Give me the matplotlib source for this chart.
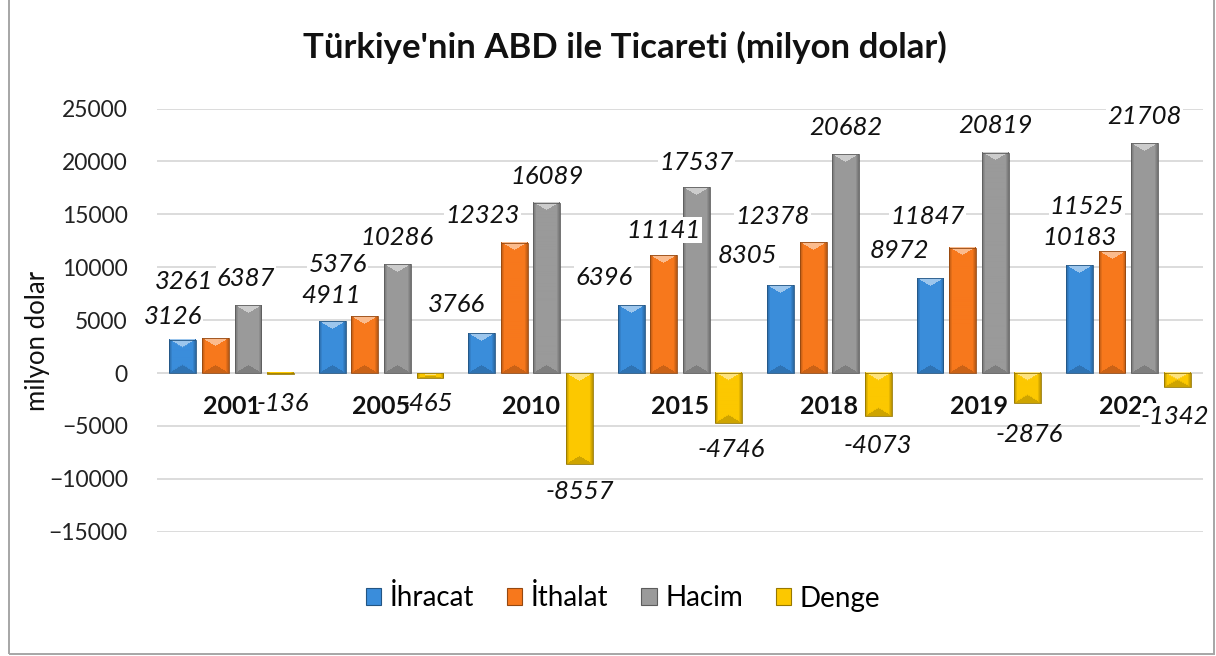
import numpy as np
import matplotlib
matplotlib.use('Agg')
import matplotlib.pyplot as plt
from matplotlib.patches import Patch, Rectangle
from matplotlib.colors import to_rgb

plt.rcParams['font.family'] = ['Lato', 'DejaVu Sans']

# Data (milyon dolar)
years = ['2001', '2005', '2010', '2015', '2018', '2019', '2020']
ihracat = [3126, 4911, 3766, 6396, 8305, 8972, 10183]
ithalat = [3261, 5376, 12323, 11141, 12378, 11847, 11525]
hacim = [6387, 10286, 16089, 17537, 20682, 20819, 21708]
denge = [-136, -465, -8557, -4746, -4073, -2876, -1342]
series_names = ['İhracat', 'İthalat', 'Hacim', 'Denge']
series = [ihracat, ithalat, hacim, denge]
colors = ['#3a8ddb', '#f7781c', '#9a9a9a', '#fcc800']

# label offsets in pixels from the bar end (the labels were moved by hand)
label_dx = [[-10, -1, -25, -27, -33, -31, 0],
            [-31, -27, -32, 0, -41, -35, -25],
            [-2, 0, 0, 0, 0, 0, 0],
            [2, -3, 0, 2, 0, 2, -2]]
label_dy = [[-23, -26, -29, -28, -30, -28, -28],
            [-57, -52, -27, -25, -26, -31, -45],
            [-27, -27, -26, -25, -27, -27, -27],
            [29, 26, 28, 26, 29, 31, 29]]

W, H, DPI = 12.16, 6.56, 100
fig = plt.figure(figsize=(W, H), dpi=DPI)
ax = fig.add_axes([157 / 1216, 1 - 531.7 / 656, 1046 / 1216, 423.2 / 656])

ymin, ymax = -15000, 25000
px_x = 1046 / 7.0            # pixels per category
px_y = 423.2 / (ymax - ymin)  # pixels per unit


def bevel(rgb, wpx, hpx, cap=8.0):
    """Excel style 'angle' bevel: light cap on top, darker sides/bottom."""
    wpx = max(int(round(wpx)), 2)
    hpx = max(int(round(hpx)), 1)
    u = (np.arange(wpx) + 0.5) / wpx
    v = np.arange(hpx) + 0.5
    U, V = np.meshgrid(u, v)
    cap = min(cap, hpx / 2.0)
    shade = np.zeros_like(U)
    edge = np.minimum(U, 1 - U) * wpx
    shade -= 0.28 * np.clip(1 - edge / 3.5, 0, 1)
    tri = cap * (1 - np.abs(2 * U - 1))
    shade[V < tri] = 0.5
    shade[(hpx - V) < tri] = -0.18
    base = np.array(rgb)[None, None, :]
    s = shade[:, :, None]
    img = np.where(s > 0, base + (1 - base) * s, base * (1 + s))
    return np.clip(img, 0, 1)


x = np.arange(len(years))
bw = 0.18
step = 0.218
for j, (vals, col) in enumerate(zip(series, colors)):
    pos = x + (j - 1.5) * step
    rgb = to_rgb(col)
    dark = tuple(c * 0.6 for c in rgb)
    bars = ax.bar(pos, vals, bw, facecolor='none', edgecolor=dark,
                  linewidth=0.6, zorder=3)
    for r in bars:
        x0, y0 = r.get_x(), r.get_y()
        w, h = r.get_width(), r.get_height()
        lo, hi = min(y0, y0 + h), max(y0, y0 + h)
        img = bevel(rgb, w * px_x, (hi - lo) * px_y)
        ax.imshow(img, extent=(x0, x0 + w, lo, hi), origin='upper',
                  aspect='auto', interpolation='bilinear', zorder=2)
    for i, (p, v) in enumerate(zip(pos, vals)):
        # white label boxes, except where the Denge label sits next to a year
        bg = j < 3 or i == len(years) - 1
        ax.annotate(str(v), (p, v),
                    xytext=(label_dx[j][i] * 0.72, -label_dy[j][i] * 0.72),
                    textcoords='offset points', ha='center', va='center',
                    fontsize=18.5, fontstyle='italic', color='#111111',
                    zorder=6,
                    bbox=dict(boxstyle='square,pad=0.05', fc='white',
                              ec='none') if bg else None)

# category labels sit just under the zero line
for i, yr in enumerate(years):
    ax.text(i, -3200, yr, ha='center', va='center', fontsize=18,
            fontweight='bold', color='#111111', zorder=5)

ax.set_xlim(-0.5, len(years) - 0.5)
ax.set_ylim(ymin, ymax)
ax.set_yticks(range(ymin, ymax + 1, 5000))
ax.tick_params(axis='y', length=0, pad=21, labelsize=16.5, labelcolor='#222222')
ax.set_xticks([])
ax.yaxis.grid(True, color='#d9d9d9', linewidth=1.3)
ax.set_axisbelow(True)
for s in ax.spines.values():
    s.set_visible(False)

fig.text(38 / 1216, 1 - 341 / 656, 'milyon dolar', rotation=90,
         ha='center', va='center', fontsize=18.5, color='#111111')
fig.text(625 / 1216, 1 - 47 / 656,
         "Türkiye'nin ABD ile Ticareti (milyon dolar)",
         ha='center', va='center', fontsize=25, fontweight='bold',
         color='#111111')

handles = [Patch(facecolor=c, edgecolor=tuple(v * 0.6 for v in to_rgb(c)),
                 linewidth=0.8) for c in colors]
fig.legend(handles, series_names, loc='center',
           bbox_to_anchor=(623 / 1216, 1 - 598 / 656), ncol=4,
           frameon=False, fontsize=20, handlelength=0.55, handleheight=0.55,
           handletextpad=0.3, columnspacing=1.2)

# chart area border (top edge is cut off in the reference)
fig.patches.append(Rectangle((8.5 / 1216, 2 / 656), 1205 / 1216, 1.0,
                             transform=fig.transFigure, fill=False,
                             edgecolor='#a6a6a6', linewidth=1.4))

fig.savefig('out.png', dpi=DPI)
